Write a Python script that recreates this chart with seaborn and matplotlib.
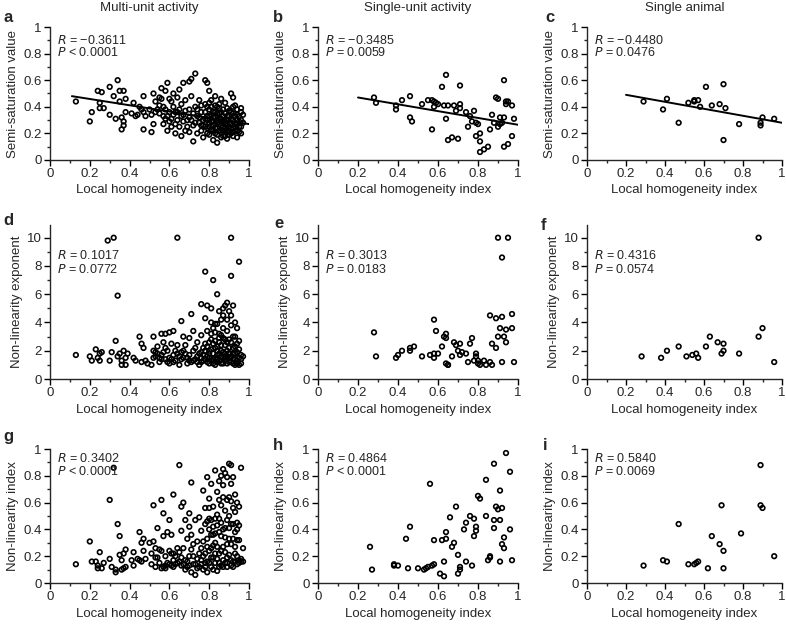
import numpy as np
import matplotlib
matplotlib.use("Agg")
import matplotlib.pyplot as plt
import seaborn as sns

# ---- multi-unit activity ----
mua_semi_x = [0.13, 0.20, 0.21, 0.24, 0.25, 0.25, 0.26, 0.27, 0.30, 0.30, 0.32, 0.33, 0.34, 0.35, 0.35, 0.36, 0.36, 0.37,
              0.37, 0.38, 0.38, 0.37, 0.41, 0.42, 0.43, 0.44, 0.45, 0.46, 0.47, 0.47, 0.47, 0.48, 0.50, 0.51, 0.52, 0.52,
              0.53, 0.54, 0.55, 0.56, 0.56, 0.57, 0.57, 0.58, 0.58, 0.59, 0.59, 0.60, 0.60, 0.61, 0.61, 0.62, 0.62, 0.63,
              0.63, 0.64, 0.64, 0.65, 0.65, 0.66, 0.66, 0.67, 0.67, 0.68, 0.68, 0.69, 0.70, 0.70, 0.70, 0.71, 0.71, 0.72,
              0.72, 0.73, 0.73, 0.74, 0.74, 0.75, 0.75, 0.76, 0.76, 0.77, 0.77, 0.78, 0.78, 0.78, 0.79, 0.79, 0.79, 0.80,
              0.80, 0.80, 0.81, 0.81, 0.82, 0.82, 0.82, 0.83, 0.83, 0.83, 0.84, 0.84, 0.84, 0.85, 0.85, 0.85, 0.86, 0.86,
              0.86, 0.87, 0.87, 0.87, 0.88, 0.88, 0.88, 0.89, 0.89, 0.89, 0.90, 0.90, 0.90, 0.91, 0.91, 0.91, 0.92, 0.92,
              0.92, 0.93, 0.93, 0.93, 0.94, 0.94, 0.94, 0.95, 0.95, 0.96, 0.96, 0.97, 0.97, 0.79, 0.81, 0.83, 0.85, 0.87,
              0.89, 0.91, 0.80, 0.82, 0.84, 0.86, 0.88, 0.90, 0.92, 0.94, 0.76, 0.74, 0.72, 0.70, 0.68, 0.66, 0.64, 0.62,
              0.60, 0.58, 0.55, 0.53, 0.51,
              0.77, 0.78, 0.78, 0.79, 0.79, 0.80, 0.80, 0.81, 0.81, 0.82, 0.82, 0.83, 0.83, 0.83, 0.84, 0.84, 0.85, 0.85,
              0.86, 0.86, 0.86, 0.87, 0.87, 0.88, 0.88, 0.89, 0.89, 0.90, 0.90, 0.91, 0.91, 0.92, 0.92, 0.93, 0.93, 0.94,
              0.94, 0.95, 0.95, 0.96, 0.96, 0.75, 0.73, 0.71, 0.69, 0.67, 0.65, 0.63, 0.61, 0.59, 0.57, 0.55, 0.76, 0.80,
              0.84, 0.88, 0.92, 0.96]
mua_semi_y = [0.44, 0.29, 0.36, 0.52, 0.43, 0.39, 0.51, 0.39, 0.55, 0.34, 0.48, 0.31, 0.60, 0.52, 0.44, 0.32, 0.23, 0.26,
              0.52, 0.46, 0.36, 0.29, 0.35, 0.43, 0.33, 0.34, 0.40, 0.38, 0.48, 0.36, 0.23, 0.33, 0.38, 0.21, 0.50, 0.27,
              0.44, 0.38, 0.47, 0.54, 0.46, 0.33, 0.27, 0.52, 0.38, 0.58, 0.22, 0.46, 0.36, 0.31, 0.25, 0.50, 0.40, 0.36,
              0.20, 0.47, 0.30, 0.53, 0.25, 0.18, 0.42, 0.58, 0.34, 0.22, 0.45, 0.30, 0.59, 0.38, 0.21, 0.61, 0.48, 0.26,
              0.14, 0.65, 0.40, 0.33, 0.20, 0.28, 0.45, 0.22, 0.36, 0.30, 0.17, 0.60, 0.42, 0.25, 0.58, 0.33, 0.20, 0.52,
              0.38, 0.28, 0.23, 0.45, 0.32, 0.15, 0.26, 0.48, 0.36, 0.20, 0.30, 0.24, 0.13, 0.42, 0.27, 0.35, 0.21, 0.31,
              0.46, 0.25, 0.38, 0.18, 0.29, 0.43, 0.22, 0.33, 0.26, 0.16, 0.37, 0.28, 0.21, 0.50, 0.31, 0.24, 0.47, 0.35,
              0.18, 0.27, 0.41, 0.22, 0.30, 0.38, 0.17, 0.25, 0.33, 0.39, 0.20, 0.34, 0.28, 0.30, 0.34, 0.27, 0.31, 0.28,
              0.30, 0.27, 0.25, 0.22, 0.19, 0.26, 0.24, 0.19, 0.24, 0.22, 0.41, 0.38, 0.35, 0.32, 0.37, 0.33, 0.36, 0.34,
              0.29, 0.31, 0.35, 0.36, 0.34,
              0.26, 0.31, 0.36, 0.24, 0.40, 0.33, 0.19, 0.29, 0.40, 0.36, 0.29, 0.32, 0.24, 0.41, 0.35, 0.28, 0.22, 0.39,
              0.29, 0.36, 0.17, 0.33, 0.22, 0.35, 0.27, 0.21, 0.39, 0.25, 0.33, 0.20, 0.36, 0.30, 0.21, 0.33, 0.25, 0.27,
              0.34, 0.29, 0.21, 0.30, 0.36, 0.32, 0.28, 0.30, 0.25, 0.29, 0.38, 0.27, 0.44, 0.33, 0.40, 0.41, 0.26, 0.43,
              0.40, 0.18, 0.40, 0.25]

mua_exp_x = [0.13, 0.20, 0.21, 0.23, 0.24, 0.25, 0.25, 0.26, 0.29, 0.30, 0.31, 0.32, 0.33, 0.34, 0.34, 0.35, 0.36, 0.36,
             0.37, 0.38, 0.38, 0.39, 0.42, 0.43, 0.45, 0.46, 0.46, 0.47, 0.48, 0.49, 0.51, 0.52, 0.52, 0.53, 0.54, 0.55,
             0.56, 0.56, 0.57, 0.58, 0.58, 0.59, 0.60, 0.60, 0.61, 0.62, 0.62, 0.63, 0.64, 0.64, 0.65, 0.66, 0.66, 0.67,
             0.67, 0.68, 0.69, 0.70, 0.70, 0.71, 0.72, 0.72, 0.73, 0.74, 0.74, 0.75, 0.76, 0.76, 0.76, 0.77, 0.78, 0.78,
             0.78, 0.79, 0.79, 0.79, 0.80, 0.80, 0.81, 0.81, 0.81, 0.82, 0.82, 0.82, 0.83, 0.83, 0.84, 0.84, 0.84, 0.85,
             0.85, 0.86, 0.86, 0.87, 0.87, 0.87, 0.88, 0.88, 0.88, 0.89, 0.89, 0.89, 0.90, 0.90, 0.90, 0.91, 0.91, 0.91,
             0.92, 0.92, 0.92, 0.93, 0.93, 0.93, 0.94, 0.94, 0.94, 0.95, 0.95, 0.95, 0.96, 0.96, 0.97, 0.78, 0.80, 0.82,
             0.84, 0.86, 0.88, 0.90, 0.92, 0.79, 0.81, 0.83, 0.85, 0.87, 0.89, 0.91, 0.86, 0.84, 0.70, 0.68, 0.66, 0.64,
             0.62, 0.60, 0.58, 0.56, 0.54, 0.52, 0.72, 0.74, 0.76, 0.77,
             0.76, 0.77, 0.78, 0.79, 0.80, 0.80, 0.81, 0.81, 0.82, 0.82, 0.83, 0.83, 0.84, 0.84, 0.85, 0.85, 0.86, 0.86,
             0.87, 0.87, 0.88, 0.88, 0.89, 0.89, 0.90, 0.90, 0.91, 0.91, 0.92, 0.92, 0.93, 0.93, 0.94, 0.94, 0.95, 0.95,
             0.96, 0.75, 0.73, 0.71, 0.69, 0.67, 0.65, 0.63, 0.61, 0.59, 0.57, 0.55, 0.53, 0.89, 0.87, 0.85, 0.83, 0.91,
             0.93]
mua_exp_y = [1.7, 1.6, 1.3, 2.1, 1.5, 1.8, 1.3, 1.9, 9.8, 1.3, 1.9, 10.0, 2.7, 5.9, 1.6, 1.8, 1.3, 1.0,
             2.0, 1.5, 1.0, 1.8, 1.5, 1.3, 3.0, 2.5, 1.2, 2.2, 1.3, 1.1, 1.0, 3.0, 2.0, 1.6, 2.3, 1.2,
             3.2, 1.7, 2.6, 3.2, 1.4, 2.0, 3.3, 1.1, 2.5, 1.7, 3.4, 1.3, 2.4, 10.0, 1.0, 1.9, 4.1, 3.0,
             1.5, 2.4, 1.1, 2.9, 1.7, 4.6, 3.4, 1.3, 2.2, 1.6, 2.6, 1.0, 5.3, 3.1, 1.9, 1.3, 4.3, 2.5,
             7.6, 5.2, 1.6, 3.4, 2.0, 1.1, 5.0, 4.0, 2.8, 1.4, 3.6, 7.0, 2.2, 1.0, 6.0, 3.9, 1.7, 2.6,
             1.3, 4.2, 3.1, 1.9, 4.5, 1.1, 5.2, 2.4, 1.5, 5.4, 3.4, 2.0, 1.2, 4.8, 2.8, 7.3, 10.0, 1.6,
             5.2, 3.0, 2.2, 1.0, 4.0, 1.8, 3.6, 2.5, 1.3, 8.3, 2.1, 1.0, 1.7, 1.4, 1.6, 1.4, 1.5, 1.8,
             1.2, 1.6, 1.3, 1.8, 1.4, 2.3, 2.1, 2.7, 3.2, 2.9, 2.6, 3.8, 2.0, 2.3, 1.3, 1.8, 1.4, 1.8,
             1.2, 1.5, 2.2, 1.4, 1.8, 1.5, 2.0, 1.2, 1.5, 2.2,
             1.2, 1.7, 2.0, 1.2, 2.6, 1.8, 1.3, 3.2, 2.5, 1.1, 1.5, 3.3, 2.0, 1.4, 1.8, 2.9, 1.1, 2.4,
             1.5, 3.6, 1.8, 2.8, 1.1, 1.6, 2.2, 1.5, 1.2, 2.6, 1.8, 1.1, 2.3, 1.4, 1.9, 1.1, 1.5, 2.7,
             1.1, 1.8, 1.4, 1.2, 1.5, 2.0, 1.6, 2.0, 1.4, 1.2, 1.9, 1.5, 1.9, 4.2, 5.0, 4.8, 3.9, 4.5,
             3.0]

mua_nli_x = [0.13, 0.20, 0.21, 0.23, 0.24, 0.24, 0.25, 0.26, 0.27, 0.30, 0.30, 0.31, 0.32, 0.33, 0.33, 0.34, 0.35, 0.35,
             0.36, 0.36, 0.37, 0.37, 0.38, 0.38, 0.41, 0.42, 0.42, 0.44, 0.45, 0.45, 0.46, 0.46, 0.47, 0.47, 0.48, 0.50,
             0.51, 0.51, 0.52, 0.52, 0.53, 0.53, 0.54, 0.54, 0.55, 0.56, 0.56, 0.56, 0.57, 0.57, 0.58, 0.58, 0.59, 0.60,
             0.60, 0.61, 0.61, 0.62, 0.62, 0.62, 0.63, 0.64, 0.65, 0.65, 0.66, 0.66, 0.66, 0.67, 0.67, 0.68, 0.68, 0.69,
             0.69, 0.70, 0.70, 0.70, 0.71, 0.71, 0.71, 0.72, 0.72, 0.73, 0.73, 0.74, 0.74, 0.75, 0.75, 0.76, 0.76, 0.77,
             0.77, 0.77, 0.78, 0.78, 0.78, 0.79, 0.79, 0.79, 0.80, 0.80, 0.80, 0.81, 0.81, 0.81, 0.82, 0.82, 0.82, 0.83,
             0.83, 0.83, 0.84, 0.84, 0.84, 0.85, 0.85, 0.85, 0.86, 0.86, 0.86, 0.87, 0.87, 0.87, 0.88, 0.88, 0.88, 0.89,
             0.89, 0.89, 0.90, 0.90, 0.90, 0.91, 0.91, 0.91, 0.92, 0.92, 0.92, 0.93, 0.93, 0.93, 0.94, 0.94, 0.94, 0.95,
             0.95, 0.95, 0.96, 0.96, 0.97, 0.97, 0.79, 0.81, 0.83, 0.85, 0.87, 0.89, 0.91, 0.93, 0.80, 0.82, 0.84, 0.86,
             0.88, 0.90, 0.92, 0.94, 0.76, 0.74, 0.72, 0.70, 0.68, 0.66, 0.64, 0.62, 0.60, 0.58,
             0.76, 0.77, 0.78, 0.78, 0.79, 0.79, 0.80, 0.80, 0.81, 0.81, 0.82, 0.82, 0.83, 0.83, 0.84, 0.84, 0.85, 0.85,
             0.86, 0.86, 0.87, 0.87, 0.88, 0.88, 0.89, 0.89, 0.90, 0.90, 0.91, 0.91, 0.92, 0.92, 0.93, 0.93, 0.94, 0.94,
             0.95, 0.95, 0.96, 0.75, 0.73, 0.71, 0.69, 0.67, 0.65, 0.63, 0.61, 0.59, 0.57, 0.55, 0.53, 0.87, 0.85, 0.89,
             0.91]
mua_nli_y = [0.14, 0.31, 0.16, 0.16, 0.13, 0.11, 0.23, 0.11, 0.15, 0.62, 0.18, 0.12, 0.86, 0.10, 0.08, 0.44, 0.35, 0.21,
             0.17, 0.10, 0.22, 0.11, 0.25, 0.12, 0.17, 0.23, 0.13, 0.18, 0.38, 0.17, 0.30, 0.16, 0.33, 0.24, 0.18, 0.30,
             0.22, 0.14, 0.58, 0.31, 0.26, 0.12, 0.41, 0.19, 0.15, 0.62, 0.24, 0.11, 0.52, 0.35, 0.20, 0.13, 0.38, 0.47,
             0.24, 0.36, 0.22, 0.66, 0.17, 0.12, 0.14, 0.26, 0.88, 0.23, 0.57, 0.39, 0.13, 0.60, 0.26, 0.10, 0.47, 0.33,
             0.16, 0.52, 0.42, 0.20, 0.75, 0.08, 0.36, 0.29, 0.14, 0.47, 0.06, 0.31, 0.18, 0.49, 0.12, 0.39, 0.26, 0.69,
             0.20, 0.10, 0.56, 0.44, 0.15, 0.79, 0.33, 0.08, 0.63, 0.48, 0.24, 0.74, 0.12, 0.36, 0.57, 0.19, 0.42, 0.84,
             0.30, 0.15, 0.68, 0.51, 0.09, 0.62, 0.38, 0.22, 0.80, 0.45, 0.13, 0.73, 0.27, 0.17, 0.82, 0.54, 0.34, 0.62,
             0.19, 0.12, 0.89, 0.50, 0.41, 0.88, 0.74, 0.29, 0.79, 0.56, 0.16, 0.66, 0.38, 0.22, 0.60, 0.14, 0.45, 0.57,
             0.32, 0.17, 0.86, 0.18, 0.26, 0.16, 0.16, 0.19, 0.22, 0.15, 0.12, 0.15, 0.13, 0.16, 0.40, 0.36, 0.43, 0.35,
             0.41, 0.33, 0.44, 0.40, 0.17, 0.11, 0.20, 0.13, 0.17, 0.19, 0.15, 0.22, 0.14, 0.11,
             0.14, 0.31, 0.22, 0.12, 0.46, 0.27, 0.15, 0.56, 0.26, 0.47, 0.10, 0.28, 0.48, 0.37, 0.18, 0.27, 0.12, 0.48,
             0.24, 0.58, 0.40, 0.64, 0.15, 0.23, 0.29, 0.47, 0.21, 0.64, 0.17, 0.44, 0.33, 0.12, 0.53, 0.27, 0.20, 0.32,
             0.15, 0.43, 0.16, 0.22, 0.14, 0.25, 0.12, 0.14, 0.16, 0.20, 0.13, 0.15, 0.12, 0.25, 0.19, 0.85, 0.76, 0.79,
             0.61]

# ---- single-unit activity ----
sua_semi_x = [0.28, 0.29, 0.39, 0.39, 0.42, 0.46, 0.46, 0.47, 0.52, 0.55, 0.57, 0.57, 0.58, 0.58, 0.59, 0.60, 0.62, 0.63,
              0.64, 0.64, 0.65, 0.65, 0.67, 0.68, 0.69, 0.70, 0.71, 0.71, 0.71, 0.74, 0.75, 0.76, 0.77, 0.78, 0.79, 0.79,
              0.80, 0.81, 0.81, 0.81, 0.83, 0.85, 0.86, 0.87, 0.88, 0.89, 0.90, 0.90, 0.91, 0.91, 0.92, 0.93, 0.93, 0.93,
              0.94, 0.94, 0.95, 0.95, 0.97, 0.97, 0.98]
sua_semi_y = [0.47, 0.43, 0.41, 0.38, 0.45, 0.48, 0.32, 0.29, 0.42, 0.45, 0.45, 0.23, 0.40, 0.44, 0.43, 0.42, 0.55, 0.41,
              0.64, 0.31, 0.41, 0.15, 0.17, 0.41, 0.37, 0.16, 0.56, 0.42, 0.39, 0.36, 0.25, 0.33, 0.29, 0.37, 0.28, 0.18,
              0.27, 0.20, 0.14, 0.06, 0.08, 0.10, 0.23, 0.34, 0.28, 0.47, 0.46, 0.25, 0.27, 0.32, 0.28, 0.60, 0.32, 0.10,
              0.44, 0.42, 0.44, 0.12, 0.41, 0.18, 0.31]

sua_exp_x = [0.28, 0.29, 0.39, 0.40, 0.42, 0.46, 0.46, 0.48, 0.52, 0.56, 0.58, 0.58, 0.58, 0.59, 0.60, 0.62, 0.63, 0.64,
             0.64, 0.64, 0.65, 0.65, 0.67, 0.68, 0.69, 0.70, 0.71, 0.71, 0.72, 0.74, 0.75, 0.76, 0.77, 0.78, 0.79, 0.79,
             0.80, 0.80, 0.81, 0.83, 0.84, 0.86, 0.86, 0.87, 0.87, 0.89, 0.89, 0.90, 0.90, 0.91, 0.92, 0.92, 0.92, 0.93,
             0.94, 0.94, 0.95, 0.97, 0.97, 0.98]
sua_exp_y = [3.3, 1.6, 1.5, 1.7, 2.0, 2.2, 2.0, 2.3, 1.6, 1.7, 4.2, 1.8, 1.5, 3.4, 1.8, 2.3, 3.0, 3.2,
             2.9, 1.1, 1.0, 1.0, 1.6, 2.6, 2.4, 2.0, 2.5, 1.7, 1.9, 1.8, 1.2, 2.5, 2.9, 1.3, 1.8, 1.6,
             1.3, 1.1, 1.0, 1.3, 1.0, 1.2, 4.5, 2.5, 1.0, 4.3, 2.2, 3.0, 10.0, 3.6, 4.4, 8.6, 1.2, 3.0,
             3.5, 2.6, 10.0, 4.6, 3.6, 1.2]

sua_nli_x = [0.26, 0.27, 0.38, 0.38, 0.40, 0.44, 0.45, 0.46, 0.50, 0.53, 0.54, 0.55, 0.56, 0.57, 0.58, 0.58, 0.61, 0.62,
             0.63, 0.63, 0.64, 0.64, 0.66, 0.67, 0.68, 0.69, 0.70, 0.70, 0.71, 0.71, 0.73, 0.74, 0.74, 0.76, 0.77, 0.78,
             0.78, 0.79, 0.79, 0.80, 0.81, 0.84, 0.84, 0.85, 0.86, 0.86, 0.88, 0.88, 0.88, 0.89, 0.90, 0.91, 0.91, 0.91,
             0.92, 0.92, 0.93, 0.93, 0.94, 0.96, 0.96, 0.97]
sua_nli_y = [0.27, 0.10, 0.14, 0.13, 0.13, 0.33, 0.11, 0.42, 0.11, 0.10, 0.11, 0.12, 0.74, 0.13, 0.32, 0.14, 0.07, 0.32,
             0.16, 0.05, 0.33, 0.38, 0.49, 0.27, 0.30, 0.57, 0.21, 0.07, 0.12, 0.10, 0.40, 0.45, 0.16, 0.50, 0.13, 0.48,
             0.35, 0.42, 0.39, 0.65, 0.63, 0.77, 0.50, 0.17, 0.19, 0.20, 0.41, 0.47, 0.89, 0.57, 0.55, 0.69, 0.47, 0.16,
             0.56, 0.29, 0.26, 0.34, 0.97, 0.83, 0.40, 0.17]

# ---- single animal ----
ani_semi_x = [0.29, 0.39, 0.41, 0.47, 0.52, 0.55, 0.55, 0.57, 0.58, 0.61, 0.64, 0.68, 0.70, 0.70, 0.71, 0.78, 0.89, 0.89,
              0.90, 0.96]
ani_semi_y = [0.44, 0.38, 0.46, 0.28, 0.43, 0.45, 0.44, 0.45, 0.40, 0.55, 0.41, 0.42, 0.15, 0.57, 0.39, 0.27, 0.26, 0.28,
              0.32, 0.31]

ani_exp_x = [0.28, 0.38, 0.41, 0.47, 0.51, 0.54, 0.56, 0.57, 0.61, 0.63, 0.67, 0.69, 0.70, 0.70, 0.78, 0.88, 0.88, 0.90,
             0.96]
ani_exp_y = [1.6, 1.5, 2.0, 2.3, 1.6, 1.7, 1.8, 1.5, 2.3, 3.0, 2.6, 1.8, 2.5, 2.0, 1.8, 3.0, 10.0, 3.6, 1.2]

ani_nli_x = [0.29, 0.39, 0.41, 0.47, 0.52, 0.55, 0.56, 0.57, 0.62, 0.64, 0.68, 0.69, 0.70, 0.70, 0.79, 0.89, 0.89, 0.90,
             0.96]
ani_nli_y = [0.13, 0.17, 0.16, 0.44, 0.14, 0.14, 0.15, 0.16, 0.11, 0.35, 0.29, 0.58, 0.24, 0.11, 0.37, 0.88, 0.58, 0.56,
             0.20]

# regression lines of the top row (end points)
fit_x = {"a": [0.11, 1.0], "b": [0.2, 1.0], "c": [0.2, 1.0]}
fit_y = {"a": [0.48, 0.27], "b": [0.47, 0.265], "c": [0.49, 0.28]}

col_titles = ["Multi-unit activity", "Single-unit activity", "Single animal"]
row_ylabels = ["Semi-saturation value", "Non-linearity exponent", "Non-linearity index"]
stats_r = [["\u22120.3611", "\u22120.3485", "\u22120.4480"],
           ["0.1017", "0.3013", "0.4316"],
           ["0.3402", "0.4864", "0.5840"]]
stats_p = [["< 0.0001", "= 0.0059", "= 0.0476"],
           ["= 0.0772", "= 0.0183", "= 0.0574"],
           ["< 0.0001", "< 0.0001", "= 0.0069"]]
letters = ["a", "b", "c", "d", "e", "f", "g", "h", "i"]

panels = [[(mua_semi_x, mua_semi_y), (sua_semi_x, sua_semi_y), (ani_semi_x, ani_semi_y)],
          [(mua_exp_x, mua_exp_y), (sua_exp_x, sua_exp_y), (ani_exp_x, ani_exp_y)],
          [(mua_nli_x, mua_nli_y), (sua_nli_x, sua_nli_y), (ani_nli_x, ani_nli_y)]]

sns.set_style("ticks")
plt.rcParams["font.family"] = ["Liberation Sans", "DejaVu Sans"]
plt.rcParams["axes.linewidth"] = 1.0
plt.rcParams["xtick.major.size"] = 4
plt.rcParams["ytick.major.size"] = 4
plt.rcParams["xtick.minor.size"] = 2.5
plt.rcParams["ytick.minor.size"] = 2.5

W, H = 786, 624
fig = plt.figure(figsize=(W / 100, H / 100), dpi=100)

col_left = [50, 318, 587]
col_w = [199, 200, 195]
row_bottom = [160, 379, 583]   # pixel y of the x axis
row_top = [27, 225, 449]
text_y = [(0.90, 0.81), (0.80, 0.71), (0.93, 0.83)]
letter_pos = [[(3, 22), (273, 22), (545, 22)],
              [(3, 225), (274, 228), (541, 230)],
              [(3, 441), (273, 450), (543, 450)]]

for r in range(3):
    for c in range(3):
        left = col_left[c] / W
        bottom = 1 - row_bottom[r] / H
        height = (row_bottom[r] - row_top[r]) / H
        ax = fig.add_axes([left, bottom, col_w[c] / W, height])
        x, y = panels[r][c]
        sns.scatterplot(x=x, y=y, ax=ax, marker="o", s=11, facecolors="none",
                        edgecolors="black", linewidth=1.2, zorder=3)
        key = letters[r * 3 + c]
        if key in fit_x:
            sns.lineplot(x=fit_x[key], y=fit_y[key], ax=ax, color="black", linewidth=1.4)

        ax.set_xlim(0, 1)
        ax.set_xticks([0, 0.2, 0.4, 0.6, 0.8, 1.0])
        ax.set_xticklabels(["0", "0.2", "0.4", "0.6", "0.8", "1"])
        ax.set_xticks(np.arange(0.1, 1.0, 0.2), minor=True)
        if r == 1:
            ax.set_ylim(0, 10.9)
            ax.set_yticks([0, 2, 4, 6, 8, 10])
            ax.set_yticks([1, 3, 5, 7, 9], minor=True)
        else:
            ax.set_ylim(0, 1)
            ax.set_yticks([0, 0.2, 0.4, 0.6, 0.8, 1.0])
            ax.set_yticklabels(["0", "0.2", "0.4", "0.6", "0.8", "1"])
            ax.set_yticks(np.arange(0.1, 1.0, 0.2), minor=True)
        ax.tick_params(labelsize=9.5, width=1, color="black", pad=2)
        ax.tick_params(which="minor", width=1)
        sns.despine(ax=ax)
        ax.set_xlabel("Local homogeneity index", fontsize=9.5, labelpad=3)
        ax.set_ylabel(row_ylabels[r], fontsize=9.5, labelpad=3)

        ty1, ty2 = text_y[r]
        ax.text(0.035, ty1, "$\\it{R}$ = " + stats_r[r][c], transform=ax.transAxes,
                fontsize=9, va="center")
        ax.text(0.035, ty2, "$\\it{P}$ " + stats_p[r][c], transform=ax.transAxes,
                fontsize=9, va="center")

        lx, ly = letter_pos[r][c]
        fig.text(lx / W, 1 - ly / H, key, fontsize=12, fontweight="bold", va="baseline")

for c in range(3):
    fig.text((col_left[c] + col_w[c] / 2) / W, 1 - 8 / H, col_titles[c],
             fontsize=9.5, ha="center", va="center")

fig.savefig("out.png", dpi=100)
